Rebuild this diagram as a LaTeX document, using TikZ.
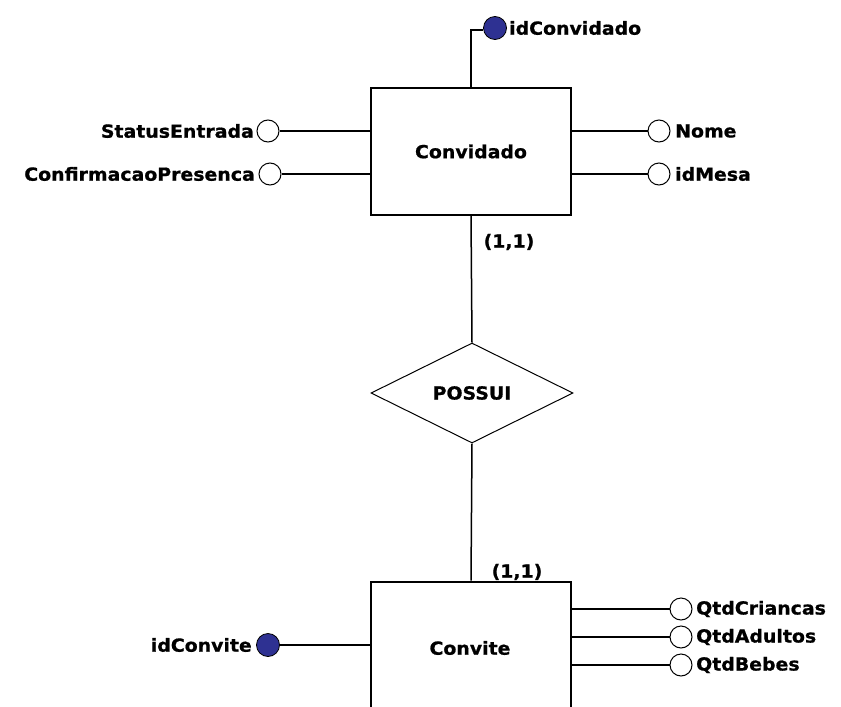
\documentclass[tikz,border=0pt]{standalone}
\usepackage{fontspec}
\newfontfamily\erfont[FakeStretch=1.05, BoldFeatures={FakeBold=0.8}]{DejaVu Sans}
\usetikzlibrary{shapes.geometric}
\definecolor{keyblue}{RGB}{46,49,146}
\begin{document}
\begin{tikzpicture}[x=1pt,y=-1pt,
  every node/.style={font=\erfont\bfseries\fontsize{18}{21}\selectfont, inner sep=0pt},
  entity/.style={draw, line width=2pt, fill=white, minimum width=200pt, minimum height=127pt},
  rel/.style={draw, diamond, line width=1pt, minimum width=202pt, minimum height=100pt, aspect=2},
  attr/.style={draw, circle, line width=1pt, minimum size=22pt, fill=white},
  keyattr/.style={draw, circle, line width=0.8pt, minimum size=23pt, fill=keyblue},
  conn/.style={line width=1.5pt},
  lbl/.style={}]
\useasboundingbox[fill=white] (0,0) rectangle (841,707);

% entities
\node[entity] (conv) at (471,151.5) {Convidado};
\node[rel] (poss) at (472,393) {POSSUI};
\node[entity] (cvt) at (471,645) {};
\node at (470,648) (cvttxt) {Convite};

% Convidado attributes
\node[keyattr] (idc) at (495,28) {};
\node[lbl, anchor=west] (idcl) at (509,28) {idConvidado};
\coordinate (idcb) at (471,30);
\node[attr] (se) at (268,131) {};
\node[lbl, anchor=east] (sel) at (254,131) {StatusEntrada};
\node[attr] (cp) at (270,174) {};
\node[lbl, anchor=east] (cpl) at (255,174) {ConfirmacaoPresenca};
\node[attr] (nome) at (659,131) {};
\node[lbl, anchor=west] (nomel) at (675,131) {Nome};
\node[attr] (idm) at (659,174) {};
\node[lbl, anchor=west] (idml) at (675,174) {idMesa};

% Convite attributes
\node[keyattr] (idv) at (268,645) {};
\node[lbl, anchor=east] (idvl) at (252,645) {idConvite};
\node[attr] (qc) at (681,609) {};
\node[lbl, anchor=west] (qcl) at (696,609) {QtdCriancas};
\node[attr] (qa) at (681,637) {};
\node[lbl, anchor=west] (qal) at (696,637) {QtdAdultos};
\node[attr] (qb) at (681,665) {};
\node[lbl, anchor=west] (qbl) at (696,665) {QtdBebes};

% connectors
\draw[conn] (conv.north -| idcb) -- (idcb) -- (idc.west |- idcb);
\draw[conn] (se) -- (conv.west |- se);
\draw[conn] (cp) -- (conv.west |- cp);
\draw[conn] (nome) -- (conv.east |- nome);
\draw[conn] (idm) -- (conv.east |- idm);
\draw[conn] (conv.south) -- (poss.north);
\draw[conn] (poss.south) -- (cvt.north);
\draw[conn] (idv) -- (cvt.west |- idv);
\draw[conn] (qc) -- (cvt.east |- qc);
\draw[conn] (qa) -- (cvt.east |- qa);
\draw[conn] (qb) -- (cvt.east |- qb);

% cardinalities
\node (c1) at (509,242) {(1,1)};
\node (c2) at (517,572) {(1,1)};
\end{tikzpicture}
\end{document}
